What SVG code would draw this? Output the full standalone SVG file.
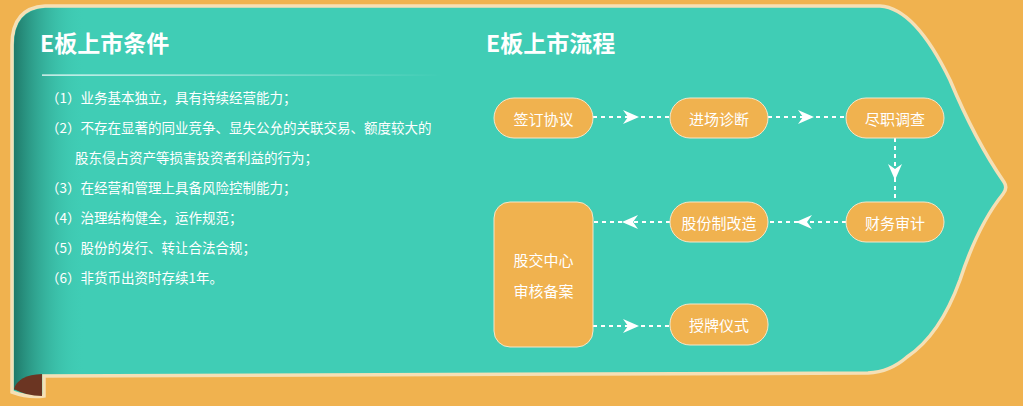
<svg xmlns="http://www.w3.org/2000/svg" width="1023" height="406" viewBox="0 0 1023 406">
<defs>
<linearGradient id="lg" x1="0" x2="1" y1="0" y2="0">
<stop offset="0" stop-color="#1f7a6a"/><stop offset="1" stop-color="#40cdb5" stop-opacity="0"/></linearGradient>
<linearGradient id="ul" x1="0" x2="1"><stop offset="0" stop-color="#ffffff"/><stop offset="1" stop-color="#ffffff" stop-opacity="0"/></linearGradient>
<marker id="ar" viewBox="0 0 16 14" refX="14" refY="7" markerWidth="16" markerHeight="14" markerUnits="userSpaceOnUse" orient="auto">
<path d="M0,0 L16,7 L0,14 L5,7 Z" fill="#fff"/></marker>
<style>
.t{font-family:"Noto Sans CJK SC","Liberation Sans",sans-serif;fill:#fff}
.h{font-size:23px;font-weight:bold}
.li{font-size:13.5px}
.n rect{fill:#f0b24f;stroke:#f5e6c8;stroke-width:1}
.n text{font-size:15px;text-anchor:middle;dominant-baseline:central}
.c{stroke:#fff;stroke-width:2;stroke-dasharray:4 4;fill:none}
</style>
</defs>
<rect width="1023" height="406" fill="#f0b24f"/>
<path d="M12,392 L12,45 Q12,8 45,6 L880,6 Q915,8 950,80 Q975,140 1004,182 Q1008,188 1003,194 Q978,225 960,280 Q940,335 907,357 Q890,372 868,373 L44,376 L44,396 Q28,398 12,392 Z" fill="#40cdb5" stroke="#f5dfb5" stroke-width="3.5"/>
<path d="M14,45 Q14,10 45,8 L85,8 L85,374 L42,374 L42,394 L14,390 Z" fill="url(#lg)"/>
<path d="M14,389 Q18,375 42,374 L42,396 Q26,396 14,389 Z" fill="#6b3522"/>
<text class="t h" x="40" y="52">E板上市条件</text>
<rect x="42" y="74.5" width="400" height="1.2" fill="url(#ul)"/>
<g class="t li">
<text x="46" y="103">（1）业务基本独立，具有持续经营能力；</text>
<text x="46" y="133">（2）不存在显著的同业竞争、显失公允的关联交易、额度较大的</text>
<text x="75" y="163">股东侵占资产等损害投资者利益的行为；</text>
<text x="46" y="193">（3）在经营和管理上具备风险控制能力；</text>
<text x="46" y="223">（4）治理结构健全，运作规范；</text>
<text x="46" y="253">（5）股份的发行、转让合法合规；</text>
<text x="46" y="283">（6）非货币出资时存续1年。</text>
</g>
<text class="t h" x="486" y="52">E板上市流程</text>
<g id="connectors">
<path class="c" d="M593,117 L670,117"/>
<path class="c" d="M593,117 L637,117" marker-end="url(#ar)"/>
<path class="c" d="M768,117 L846,117"/>
<path class="c" d="M768,117 L812,117" marker-end="url(#ar)"/>
<path class="c" d="M895,138 L895,202"/>
<path class="c" d="M895,138 L895,178" marker-end="url(#ar)"/>
<path class="c" d="M846,222 L768,222"/>
<path class="c" d="M846,222 L798,222" marker-end="url(#ar)"/>
<path class="c" d="M670,222 L593,222"/>
<path class="c" d="M670,222 L624,222" marker-end="url(#ar)"/>
<path class="c" d="M593,326 L670,326"/>
<path class="c" d="M593,326 L637,326" marker-end="url(#ar)"/>
</g>
<g id="n1" class="n t"><rect x="494" y="98" width="99" height="40" rx="20"/><text x="543.5" y="118">签订协议</text></g>
<g id="n2" class="n t"><rect x="670" y="98" width="98" height="40" rx="20"/><text x="719" y="118">进场诊断</text></g>
<g id="n3" class="n t"><rect x="846" y="98" width="98" height="40" rx="20"/><text x="895" y="118">尽职调查</text></g>
<g id="n4" class="n t"><rect x="846" y="202" width="98" height="40" rx="20"/><text x="895" y="222">财务审计</text></g>
<g id="n5" class="n t"><rect x="670" y="202" width="98" height="40" rx="20"/><text x="719" y="222">股份制改造</text></g>
<g id="n6" class="n t"><rect x="494" y="202" width="99" height="145" rx="16"/><text x="543.5" y="259">股交中心</text><text x="543.5" y="290">审核备案</text></g>
<g id="n7" class="n t"><rect x="670" y="304" width="98" height="41" rx="20"/><text x="719" y="324.5">授牌仪式</text></g>
</svg>
